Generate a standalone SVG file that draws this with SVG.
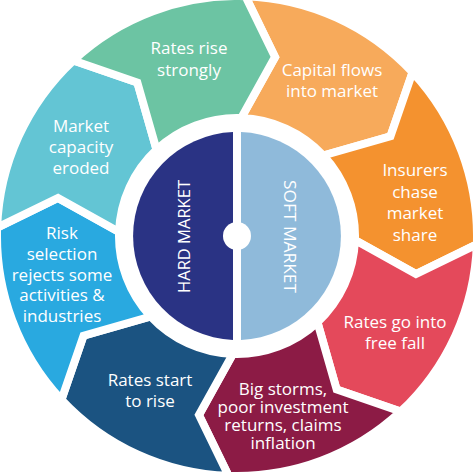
<svg xmlns="http://www.w3.org/2000/svg" width="474" height="473" viewBox="0 0 474 473">
  <style>
    .seg { stroke: #ffffff; stroke-width: 8; stroke-linejoin: miter; }
    .lbl { font-family: "Open Sans", "Liberation Sans", sans-serif; font-size: 17px; fill: #ffffff; text-anchor: middle; }
    .hub { font-family: "Open Sans", "Liberation Sans", sans-serif; font-size: 17px; fill: #ffffff; text-anchor: middle; letter-spacing: 0; }
  </style>
  <rect x="0" y="0" width="474" height="473" fill="#ffffff"/>
  <g id="connectors"></g>
  <g id="node-capital-flows">
    <path class="seg" fill="#F7AA5B" d="M 245.38 -3.86 A 240 240 0 0 1 412.54 72.32 L 390.48 136.34 L 323.31 155.52 A 118 118 0 0 0 241.12 118.07 L 275.05 57.01 Z"/>
    <text class="lbl"><tspan x="332" y="76">Capital flows</tspan><tspan x="332" y="97">into market</tspan></text>
  </g>
  <g id="node-insurers-chase">
    <path class="seg" fill="#F4922F" d="M 412.54 72.32 A 240 240 0 0 1 476.86 244.38 L 415.99 274.05 L 354.93 240.12 A 118 118 0 0 0 323.31 155.52 L 390.48 136.34 Z"/>
    <text class="lbl"><tspan x="415" y="176">Insurers</tspan><tspan x="415" y="198">chase</tspan><tspan x="415" y="219">market</tspan><tspan x="415" y="241">share</tspan></text>
  </g>
  <g id="node-free-fall">
    <path class="seg" fill="#E4495B" d="M 476.86 244.38 A 240 240 0 0 1 400.68 411.54 L 336.66 389.48 L 317.48 322.31 A 118 118 0 0 0 354.93 240.12 L 415.99 274.05 Z"/>
    <text class="lbl"><tspan x="395" y="328">Rates go into</tspan><tspan x="395" y="349">free fall</tspan></text>
  </g>
  <g id="node-big-storms">
    <path class="seg" fill="#8C1B45" d="M 400.68 411.54 A 240 240 0 0 1 228.62 475.86 L 198.95 414.99 L 232.88 353.93 A 118 118 0 0 0 317.48 322.31 L 336.66 389.48 Z"/>
    <text class="lbl"><tspan x="283" y="395">Big storms,</tspan><tspan x="283" y="413">poor investment</tspan><tspan x="283" y="431">returns, claims</tspan><tspan x="283" y="449">inflation</tspan></text>
  </g>
  <g id="node-rates-start">
    <path class="seg" fill="#1B5381" d="M 228.62 475.86 A 240 240 0 0 1 61.46 399.68 L 83.52 335.66 L 150.69 316.48 A 118 118 0 0 0 232.88 353.93 L 198.95 414.99 Z"/>
    <text class="lbl"><tspan x="150" y="386">Rates start</tspan><tspan x="150" y="407">to rise</tspan></text>
  </g>
  <g id="node-risk-selection">
    <path class="seg" fill="#29A9E0" d="M 61.46 399.68 A 240 240 0 0 1 -2.86 227.62 L 58.01 197.95 L 119.07 231.88 A 118 118 0 0 0 150.69 316.48 L 83.52 335.66 Z"/>
    <text class="lbl"><tspan x="62" y="239">Risk</tspan><tspan x="62" y="260">selection</tspan><tspan x="62" y="281">rejects some</tspan><tspan x="62" y="301">activities &amp;</tspan><tspan x="62" y="322">industries</tspan></text>
  </g>
  <g id="node-capacity-eroded">
    <path class="seg" fill="#63C5D4" d="M -2.86 227.62 A 240 240 0 0 1 73.32 60.46 L 137.34 82.52 L 156.52 149.69 A 118 118 0 0 0 119.07 231.88 L 58.01 197.95 Z"/>
    <text class="lbl"><tspan x="81" y="132">Market</tspan><tspan x="81" y="153">capacity</tspan><tspan x="81" y="174">eroded</tspan></text>
  </g>
  <g id="node-rates-rise-strongly">
    <path class="seg" fill="#6CC4A3" d="M 73.32 60.46 A 240 240 0 0 1 245.38 -3.86 L 275.05 57.01 L 241.12 118.07 A 118 118 0 0 0 156.52 149.69 L 137.34 82.52 Z"/>
    <text class="lbl"><tspan x="189" y="54">Rates rise</tspan><tspan x="189" y="76">strongly</tspan></text>
  </g>
  <g id="node-hard-market">
    <path fill="#2A3384" d="M 233 132.08 A 104 104 0 0 0 233 339.92 Z"/>
    <text class="hub" transform="translate(183.5,236.5) rotate(-90)" x="0" y="6" textLength="113" lengthAdjust="spacingAndGlyphs">HARD MARKET</text>
  </g>
  <g id="node-soft-market">
    <path fill="#8FBADA" d="M 241 132.08 A 104 104 0 0 1 241 339.92 Z"/>
    <text class="hub" transform="translate(290,236.5) rotate(90)" x="0" y="6" textLength="113" lengthAdjust="spacingAndGlyphs">SOFT MARKET</text>
  </g>
  <circle id="hub-center" cx="237" cy="236" r="14" fill="#ffffff"/>
</svg>
